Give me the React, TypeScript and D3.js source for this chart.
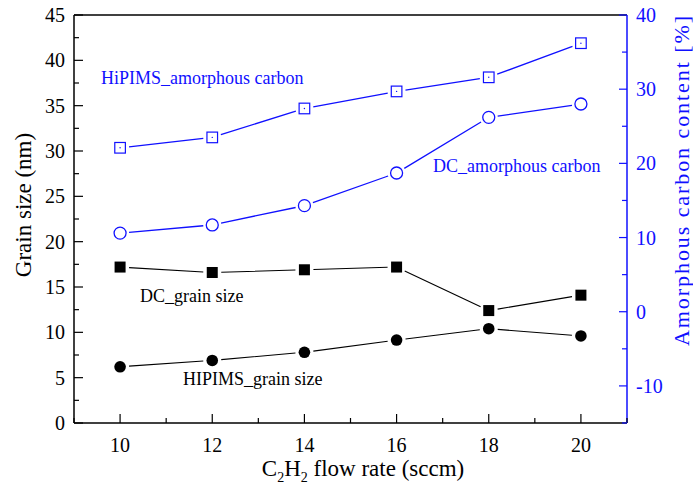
import React from "react";
import * as d3 from "d3";

const flowRates = [10, 12, 14, 16, 18, 20];
const hipimsGrain = [6.2, 6.9, 7.8, 9.15, 10.4, 9.6];
const dcGrain = [17.2, 16.6, 16.9, 17.2, 12.4, 14.1];
const hipimsAmorph = [22.1, 23.5, 27.4, 29.7, 31.6, 36.2];
const dcAmorph = [10.6, 11.7, 14.3, 18.7, 26.2, 28.0];

const xTicks = [10, 12, 14, 16, 18, 20];
const leftTicks = [0, 5, 10, 15, 20, 25, 30, 35, 40, 45];
const rightTicks = [-10, 0, 10, 20, 30, 40];

const W = 693;
const H = 493;
const L = 74, R = 627, T = 15, B = 423;
const FONT = "'Liberation Serif', 'Times New Roman', serif";
const BLUE = "#1010ff";

const x = d3.scaleLinear().domain([9, 21]).range([L, R]);
const yL = d3.scaleLinear().domain([0, 45]).range([B, T]);
const yR = d3.scaleLinear().domain([-15, 40]).range([B, T]);

function segments(pts: [number, number][], gap: number) {
  const out: string[] = [];
  for (let i = 0; i < pts.length - 1; i++) {
    const [x1, y1] = pts[i];
    const [x2, y2] = pts[i + 1];
    const dx = x2 - x1, dy = y2 - y1;
    const len = Math.hypot(dx, dy);
    const ux = dx / len, uy = dy / len;
    out.push(
      `M${x1 + ux * gap},${y1 + uy * gap}L${x2 - ux * gap},${y2 - uy * gap}`
    );
  }
  return out.join("");
}

export default function App() {
  const ptsHG = flowRates.map((f, i) => [x(f), yL(hipimsGrain[i])] as [number, number]);
  const ptsDG = flowRates.map((f, i) => [x(f), yL(dcGrain[i])] as [number, number]);
  const ptsHA = flowRates.map((f, i) => [x(f), yR(hipimsAmorph[i])] as [number, number]);
  const ptsDA = flowRates.map((f, i) => [x(f), yR(dcAmorph[i])] as [number, number]);

  const xMinor = d3.range(9, 21.01, 1).filter((v) => !xTicks.includes(v));
  const leftMinor = d3.range(2.5, 45, 5);
  const rightMinor = d3.range(-15, 40, 5).filter((v) => !rightTicks.includes(v));

  return (
    <svg width={W} height={H} style={{ position: "absolute", left: 0, top: 0, background: "#fff" }} fontFamily={FONT}>
      <rect x={0} y={0} width={W} height={H} fill="#fff" />
      {/* frame */}
      <line x1={L} x2={R} y1={T} y2={T} stroke="#000" strokeWidth={1.5} />
      <line x1={L} x2={R} y1={B} y2={B} stroke="#000" strokeWidth={1.5} />
      <line x1={L} x2={L} y1={T} y2={B} stroke="#000" strokeWidth={1.5} />
      <line x1={R} x2={R} y1={T} y2={B} stroke={BLUE} strokeWidth={1.5} />

      {/* x ticks */}
      {xTicks.map((v) => (
        <g key={"xt" + v}>
          <line x1={x(v)} x2={x(v)} y1={B} y2={B - 9} stroke="#000" strokeWidth={1.2} />
          <text x={x(v)} y={452} fontSize={20} textAnchor="middle" fill="#000">{v}</text>
        </g>
      ))}
      {xMinor.map((v) => (
        <line key={"xm" + v} x1={x(v)} x2={x(v)} y1={B} y2={B - 5} stroke="#000" strokeWidth={1.2} />
      ))}

      {/* left ticks */}
      {leftTicks.map((v) => (
        <g key={"lt" + v}>
          <line x1={L} x2={L + 9} y1={yL(v)} y2={yL(v)} stroke="#000" strokeWidth={1.2} />
          <text x={65} y={yL(v) + 7} fontSize={20} textAnchor="end" fill="#000">{v}</text>
        </g>
      ))}
      {leftMinor.map((v) => (
        <line key={"lm" + v} x1={L} x2={L + 5} y1={yL(v)} y2={yL(v)} stroke="#000" strokeWidth={1.2} />
      ))}

      {/* right ticks */}
      {rightTicks.map((v) => (
        <g key={"rt" + v}>
          <line x1={R} x2={R - 8} y1={yR(v)} y2={yR(v)} stroke={BLUE} strokeWidth={1.2} />
          <text x={636} y={yR(v) + 7} fontSize={20} textAnchor="start" fill={BLUE}>{v}</text>
        </g>
      ))}
      {rightMinor.map((v) => (
        <line key={"rm" + v} x1={R} x2={R - 5} y1={yR(v)} y2={yR(v)} stroke={BLUE} strokeWidth={1.2} />
      ))}

      {/* axis titles */}
      <text transform="translate(31,205) rotate(-90)" fontSize={23} textAnchor="middle" fill="#000">Grain size (nm)</text>
      <text transform="translate(689,181) rotate(-90)" fontSize={22} textAnchor="middle" fill={BLUE} textLength={330} lengthAdjust="spacing">Amorphous carbon content [%]</text>
      <text x={363} y={476} fontSize={23} textAnchor="middle" fill="#000">
        C<tspan fontSize={14} dy={6}>2</tspan><tspan dy={-6}>H</tspan><tspan fontSize={14} dy={6}>2</tspan><tspan dy={-6}> flow rate (sccm)</tspan>
      </text>

      {/* lines */}
      <path d={segments(ptsHG, 9)} stroke="#000" strokeWidth={1.1} fill="none" />
      <path d={segments(ptsDG, 9)} stroke="#000" strokeWidth={1.1} fill="none" />
      <path d={segments(ptsHA, 9)} stroke={BLUE} strokeWidth={1.3} fill="none" />
      <path d={segments(ptsDA, 9)} stroke={BLUE} strokeWidth={1.3} fill="none" />

      {/* markers */}
      {ptsHG.map(([px, py], i) => (
        <circle key={"hg" + i} cx={px} cy={py} r={5.8} fill="#000" />
      ))}
      {ptsDG.map(([px, py], i) => (
        <rect key={"dg" + i} x={px - 5.5} y={py - 5.5} width={11} height={11} fill="#000" />
      ))}
      {ptsHA.map(([px, py], i) => (
        <g key={"ha" + i}>
          <rect x={px - 5.3} y={py - 5.3} width={10.6} height={10.6} fill="none" stroke={BLUE} strokeWidth={1.2} />
          <circle cx={px} cy={py} r={0.7} fill={BLUE} />
        </g>
      ))}
      {ptsDA.map(([px, py], i) => (
        <circle key={"da" + i} cx={px} cy={py} r={6} fill="none" stroke={BLUE} strokeWidth={1.3} />
      ))}

      {/* annotations */}
      <text x={101} y={84} fontSize={18} fill={BLUE}>HiPIMS_amorphous carbon</text>
      <text x={433} y={172} fontSize={18} fill={BLUE}>DC_amorphous carbon</text>
      <text x={140} y={302} fontSize={18} fill="#000">DC_grain size</text>
      <text x={183} y={385} fontSize={18} fill="#000">HIPIMS_grain size</text>
    </svg>
  );
}
